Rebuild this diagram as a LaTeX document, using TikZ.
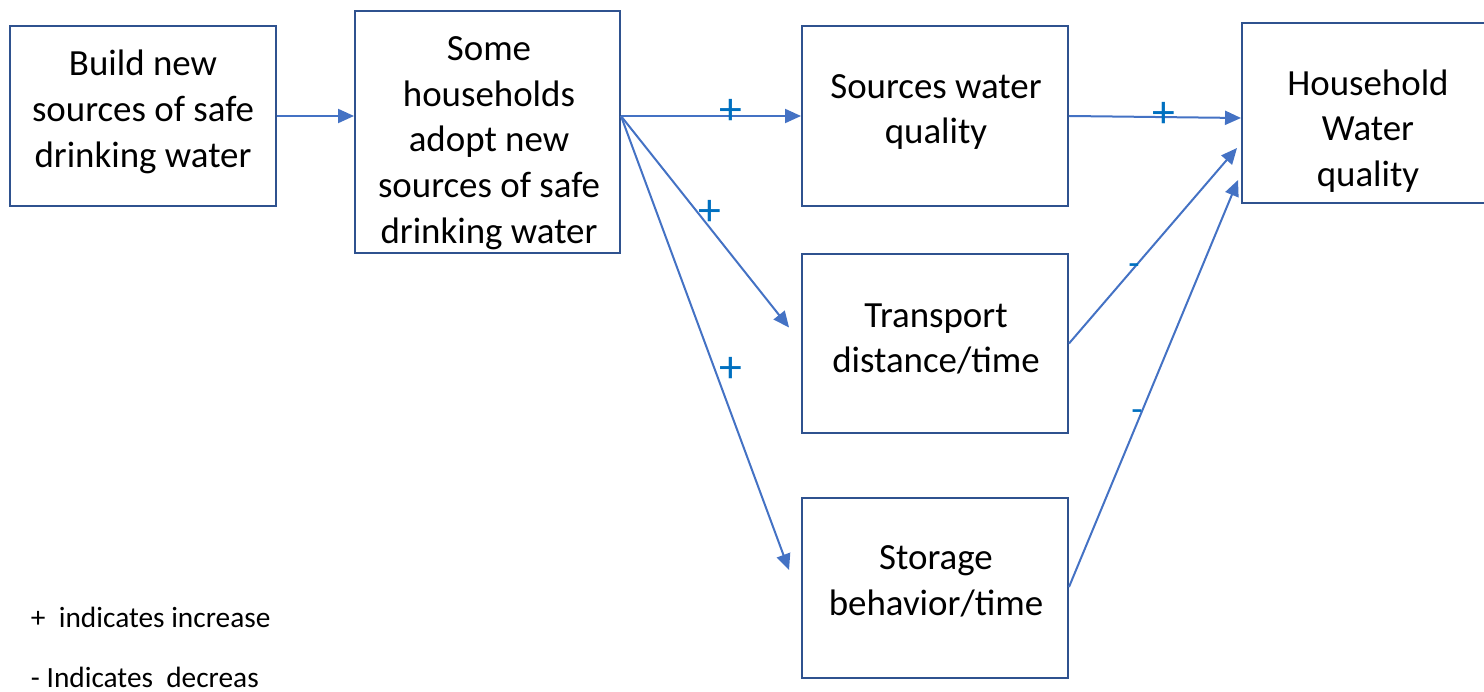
\documentclass[tikz,border=0pt]{standalone}
\usepackage{fontspec}
\setmainfont{Carlito}
\usetikzlibrary{arrows.meta,calc}
\definecolor{boxblue}{HTML}{2F528F}
\definecolor{arrowblue}{HTML}{4472C4}
\definecolor{signblue}{HTML}{0070C0}
\begin{document}
\begin{tikzpicture}[x=0.02cm, y=-0.02cm, line width=0.04cm, >={Triangle[length=0.32cm,width=0.28cm]},
        main/.style = {draw=boxblue, rectangle, minimum width=5.32cm, minimum height=3.6cm, inner sep=0pt},
        txt/.style = {align=center, inner sep=0pt, font=\fontsize{21}{26}\selectfont},
        sign/.style = {text=signblue, inner sep=0pt, font=\fontsize{26}{30}\selectfont},
        link/.style = {draw=arrowblue, ->},
        note/.style = {anchor=base west, inner sep=0pt, font=\fontsize{16.7}{20}\selectfont}]
        \useasboundingbox (0,0) rectangle (1484,692);
        \clip (0,0) rectangle (1484,692);
        \node[main] (1) at (143,116) {};
        \node[main, minimum width=5.3cm, minimum height=4.84cm] (2) at (487.5,132) {};
        \node[main] (3) at (935,116) {};
        \node[main] (4) at (935,343.5) {};
        \node[main] (5) at (935,588) {};
        \node[main, minimum width=5.04cm] (6) at (1368,113) {};
        
        \node[txt] (t1) at (143,112) {Build new\\sources of safe\\drinking water};
        \node[txt] (t2) at (489,143) {Some\\households\\adopt new\\sources of safe\\drinking water};
        \node[txt] (t3) at (936,112) {Sources water\\quality};
        \node[txt] (t4) at (936,339) {Transport\\distance/time};
        \node[txt] (t5) at (936,581) {Storage\\behavior/time};
        \node[txt] (t6) at (1368,131) {Household\\Water\\quality};
        
        \coordinate (fork) at (2.east |- 3.west);
        \draw[link] (1.east) -- (1.east -| 2.west);
        \draw[link] (fork) -- (3.west);
        \draw[link] (fork) -- ($(4.west)+(-12,-16)$);
        \draw[link] (fork) -- ($(5.west)+(-12,-18)$);
        \draw[link] (3.east) -- ($(6.west)+(0,5)$);
        \draw[link] (4.east) -- ($(6.west)+(-4,35)$);
        \draw[link] ($(5.east)+(0,-1)$) -- ($(6.west)+(-3,67)$);
        
        \node[sign] (p1) at (731,112) {+};
        \node[sign] (p2) at (710,213) {+};
        \node[sign] (p3) at (731,370) {+};
        \node[sign] (p4) at (1164,115) {+};
        \node[sign, font=\fontsize{21}{26}\selectfont] (m1) at (1134,270) {-};
        \node[sign, font=\fontsize{21}{26}\selectfont] (m2) at (1137,416) {-};
        
        \node[note] (n1) at (30,627) {+\ \ indicates increase};
        \node[note] (n2) at (30,687) {- Indicates\ \ decreas};
    \end{tikzpicture}
\end{document}
